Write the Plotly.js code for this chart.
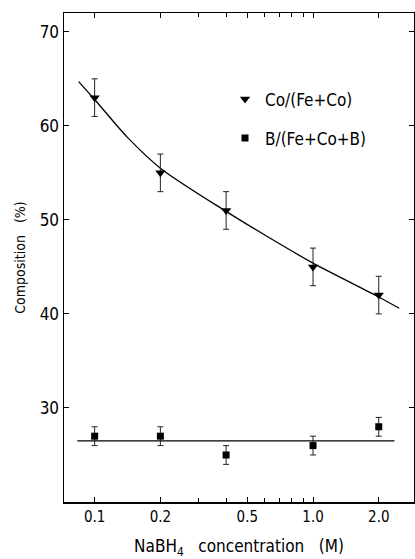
<!DOCTYPE html>
<html>
<head>
<meta charset="utf-8">
<script src="https://cdn.plot.ly/plotly-3.0.1.min.js"></script>
<style>html,body{margin:0;padding:0;background:#fff;}</style>
</head>
<body>
<div id="chart" style="width:415px;height:559px;"></div>
<script>
// NaBH4 concentration (M)
const concentration = [0.1, 0.2, 0.4, 1.0, 2.0];
// Co/(Fe+Co) composition (%)
const coRatio = [63, 55, 51, 45, 42];
const coError = [2, 2, 2, 2, 2];
// B/(Fe+Co+B) composition (%)
const bRatio = [27, 27, 25, 26, 28];
const bError = [1, 1, 1, 1, 1];
// fitted curve through Co/(Fe+Co)
const coFitX = [0.0845, 0.1, 0.141, 0.2, 0.4, 0.62, 1.0, 2.0, 2.48];
const coFitY = [64.7, 62.8, 58.8, 55.5, 50.9, 48.2, 45.4, 41.8, 40.6];
// horizontal line through B/(Fe+Co+B)
const bFitX = [0.0833, 2.36];
const bFitY = [26.5, 26.5];
// axis ticks
const xTickVals = [0.1, 0.2, 0.5, 1.0, 2.0];
const xTickText = ['0.1', '0.2', '0.5', '1.0', '2.0'];
const xMinorVals = [0.3, 0.4, 0.6, 0.7, 0.8, 0.9];
const yTickVals = [30, 40, 50, 60, 70];

const FONT = '"DejaVu Sans Condensed", "DejaVu Sans", sans-serif';

const traces = [
  {
    x: coFitX, y: coFitY, mode: 'lines', type: 'scatter',
    line: {color: '#000', width: 1.3, shape: 'spline', smoothing: 0.8},
    showlegend: false, hoverinfo: 'skip'
  },
  {
    x: bFitX, y: bFitY, mode: 'lines', type: 'scatter',
    line: {color: '#000', width: 1.3},
    showlegend: false, hoverinfo: 'skip'
  },
  {
    x: concentration, y: coRatio, mode: 'markers', type: 'scatter',
    name: 'Co/(Fe+Co)', legendgroup: 'a',
    marker: {symbol: 'triangle-down', size: 9, color: '#000'},
    error_y: {type: 'data', array: coError, visible: true, color: '#222', thickness: 1, width: 3}
  },
  {
    x: concentration, y: bRatio, mode: 'markers', type: 'scatter',
    name: 'B/(Fe+Co+B)', legendgroup: 'b',
    marker: {symbol: 'square', size: 7, color: '#000'},
    error_y: {type: 'data', array: bError, visible: true, color: '#222', thickness: 1, width: 3}
  }
];

const layout = {
  width: 415, height: 559,
  margin: {l: 64, r: 1, t: 13, b: 57},
  paper_bgcolor: '#fff', plot_bgcolor: '#fff',
  font: {family: FONT, color: '#000'},
  showlegend: true,
  legend: {
    x: 0.46, y: 0.86, xanchor: 'left', yanchor: 'top',
    bgcolor: 'rgba(0,0,0,0)', borderwidth: 0,
    font: {size: 17, family: FONT},
    traceorder: 'grouped', tracegroupgap: 14, itemwidth: 30
  },
  xaxis: {
    type: 'log', range: [Math.log10(0.0724), Math.log10(2.9)],
    tickmode: 'array', tickvals: xTickVals, ticktext: xTickText,
    ticks: 'inside', ticklen: 5, tickwidth: 1, tickcolor: '#000',
    minor: {tickmode: 'array', tickvals: xMinorVals, ticks: 'inside', ticklen: 4, tickwidth: 1, tickcolor: '#000', showgrid: false},
    showline: true, linecolor: '#000', linewidth: 1.5, mirror: 'ticks',
    showgrid: false, zeroline: false,
    tickfont: {size: 15, family: FONT},
    title: {text: 'NaBH<sub>4</sub>\u00a0\u00a0\u00a0concentration\u00a0\u00a0\u00a0(M)', font: {size: 17, family: FONT}, standoff: 16}
  },
  yaxis: {
    range: [20, 72],
    tickmode: 'array', tickvals: yTickVals,
    ticks: 'inside', ticklen: 5, tickwidth: 1, tickcolor: '#000',
    showline: true, linecolor: '#000', linewidth: 1.5, mirror: 'ticks',
    showgrid: false, zeroline: false,
    tickfont: {size: 17, family: FONT},
    title: {text: 'Composition\u00a0\u00a0\u00a0(%)', font: {size: 14, family: FONT}, standoff: 10}
  }
};

Plotly.newPlot('chart', traces, layout, {displayModeBar: false, staticPlot: true});
</script>
</body>
</html>
